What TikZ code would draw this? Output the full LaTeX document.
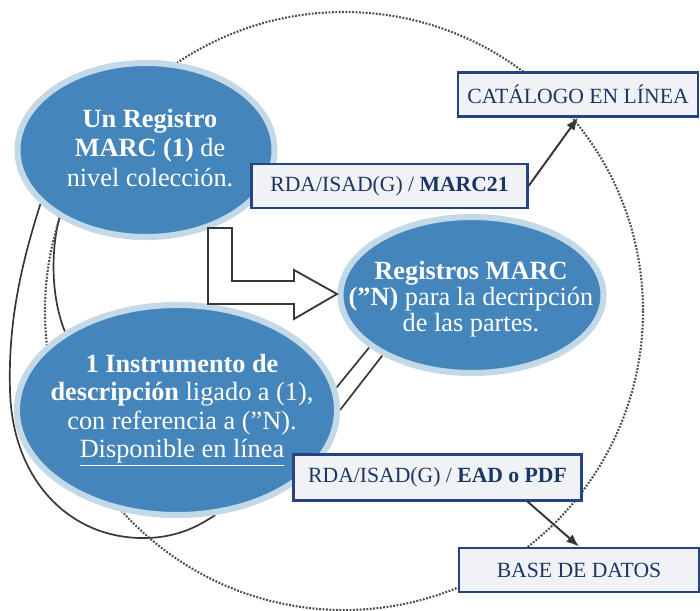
\documentclass[tikz,border=0pt]{standalone}
\usepackage{fontspec}
\setmainfont{Liberation Serif}
\usepackage{tikz}
\usetikzlibrary{arrows.meta, shapes.geometric, backgrounds}

\definecolor{ellipseblue}{RGB}{68,133,188}
\definecolor{ellipserim}{RGB}{196,217,232}
\definecolor{boxfill}{RGB}{240,242,246}
\definecolor{boxline}{RGB}{38,68,128}
\definecolor{boxtext}{RGB}{28,54,100}
\definecolor{linegray}{RGB}{55,55,55}

\begin{document}
\begin{tikzpicture}[
    x=0.025cm, y=-0.025cm,
    >={Latex[length=9pt,width=7pt]},
    ellipse style/.style={ellipse, fill=ellipseblue, draw=ellipserim, line width=4.3pt, inner sep=0pt},
    text style/.style={align=center, text=white, inner sep=0pt},
    box style/.style={rectangle, fill=boxfill, draw=boxline, line width=1.5pt, inner sep=0pt, text=boxtext, font=\fontsize{15.4}{18}\selectfont},
    link style/.style={line width=1.2pt, linegray},
    arrow style/.style={line width=1.4pt, linegray, ->},
    dotted style/.style={line width=1.5pt, gray!60!black, dash pattern=on 1.3pt off 1.1pt},
    block style/.style={line width=1.3pt, linegray, fill=white, line join=miter}
]

\useasboundingbox (0,0) rectangle (700,611);

% Draw the dotted circle
\draw[dotted style] (344,311) circle[radius=299];

% Draw the three ellipses
\node[ellipse style, minimum width=6.425cm, minimum height=4.35cm] (coleccion) at (146,150) {};
\node[ellipse style, minimum width=6.575cm, minimum height=3.9cm] (partes) at (472,295) {};
\node[ellipse style, minimum width=8cm, minimum height=5.25cm] (instrumento) at (177,410) {};

% Texts of the ellipses
\node[text style, font=\fontsize{18.7}{21}\selectfont] (coleccion text) at (150,148)
    {\textbf{Un Registro}\\\textbf{MARC (1)} de\\nivel colección.};
\node[text style, font=\fontsize{18.7}{18.5}\selectfont] (partes text) at (471,299)
    {\textbf{Registros MARC}\\\textbf{(”N)} para la decripción\\de las partes.};
\node[text style, font=\fontsize{18.7}{20.3}\selectfont] (instrumento text) at (182,410)
    {\textbf{1 Instrumento de}\\\textbf{descripción} ligado a (1),\\con referencia a (”N).\\\underline{Disponible en línea}};

% Draw the boxes
\node[box style, minimum width=6cm, minimum height=1.1cm] (catalogo) at (578,94.5) {CATÁLOGO EN LÍNEA};
\node[box style, minimum width=6.9cm, minimum height=1.12cm] (marc) at (389.5,186) {RDA/ISAD(G) / \textbf{MARC21}};
\node[box style, minimum width=7.2cm, minimum height=1.15cm] (ead) at (437.5,477.5) {RDA/ISAD(G) / \textbf{EAD o PDF}};
\node[box style, minimum width=6cm, minimum height=1.12cm] (basedatos) at (579,570) {BASE DE DATOS};

% Links between the ellipses
\begin{pgfonlayer}{background}
\draw[link style] (coleccion.207) .. controls (22,262) and (8,320) .. (10,390)
    .. controls (12,480) and (70,540) .. (147,538)
    .. controls (180,537) and (200,525) .. (instrumento.-70);
\draw[link style] (coleccion.218) .. controls (50,255) and (52,300) .. (instrumento.145);
\draw[link style] (instrumento.8) -- (partes.207);
\draw[link style] (instrumento.0) -- (partes.214);
\end{pgfonlayer}

% Arrows to the boxes
\draw[arrow style] (marc.east) -- (catalogo.south);
\draw[arrow style] ([xshift=2.25cm]ead.south) -- (basedatos.north);

% Block arrow
\draw[block style] (208,228) -- (232,228) -- (232,281) -- (294,281) -- (294,270) -- (337,294)
    -- (294,319) -- (294,304) -- (208,304) -- cycle;
\end{tikzpicture}
\end{document}
